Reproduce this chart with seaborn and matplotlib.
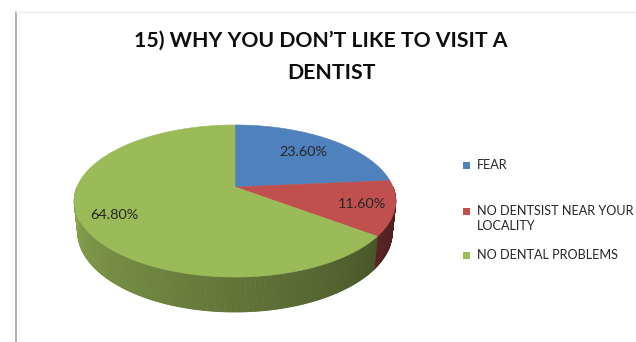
import numpy as np
import matplotlib
matplotlib.use("Agg")
import matplotlib.pyplot as plt
from matplotlib.lines import Line2D
from matplotlib.patches import Rectangle
import seaborn as sns

# ---- data ----
categories = ["FEAR", "NO DENTSIST NEAR YOUR\nLOCALITY", "NO DENTAL PROBLEMS"]
shares = [23.6, 11.6, 64.8]
slice_colors = ["#4F81BD", "#C0504D", "#9BBB59"]
title_lines = ["15) WHY YOU DON\u2019T LIKE TO VISIT A", "DENTIST"]

sns.set_theme(style="white")
plt.rcParams["font.family"] = ["Lato", "DejaVu Sans"]

W, H = 636, 342
fig = plt.figure(figsize=(W / 100, H / 100), dpi=100)
ax = fig.add_axes([0, 0, 1, 1])
ax.set_xlim(0, W)
ax.set_ylim(H, 0)
ax.axis("off")

# ---- perspective camera for the 3-D pie ----
CX, CY = 235.0, 187.0          # screen position of the pie centre
ELEV = np.deg2rad(27.7)        # camera elevation
S, C = np.sin(ELEV), np.cos(ELEV)
DIST = 4.807                   # camera distance (in pie radii)
FOCAL = 759.6                  # focal length in pixels
THICK = 0.223                  # pie thickness (in pie radii)


def project(x, y, z=0.0):
    depth = DIST + y * C - z * S
    up = y * S + z * C
    return CX + FOCAL * x / depth, CY - FOCAL * up / depth


def shade(color, factor):
    r, g, b = matplotlib.colors.to_rgb(color)
    return (r * factor, g * factor, b * factor)


# slice angles, clockwise from 12 o'clock
cum = np.concatenate([[0.0], np.cumsum(shares)]) / np.sum(shares)
starts = 90.0 - 360.0 * cum[:-1]
ends = 90.0 - 360.0 * cum[1:]

# outer wall (front half only), shaded from left to right
for t0, t1, col in zip(starts, ends, slice_colors):
    th = np.linspace(t0, t1, max(int(abs(t1 - t0) * 2), 2) + 1)
    for a, b in zip(th[:-1], th[1:]):
        mid = np.deg2rad(0.5 * (a + b))
        if np.sin(mid) >= 0:
            continue
        ra, rb = np.deg2rad(a), np.deg2rad(b)
        pts = [project(np.cos(ra), np.sin(ra)), project(np.cos(rb), np.sin(rb)),
               project(np.cos(rb), np.sin(rb), -THICK), project(np.cos(ra), np.sin(ra), -THICK)]
        u = (np.rad2deg(mid) % 360 - 180) / 180.0
        fc = shade(col, 0.90 - 0.55 * u)
        xs, ys = zip(*pts)
        ax.fill(xs, ys, color=fc, lw=0.6, ec=fc, zorder=1)

# top faces
for t0, t1, col in zip(starts, ends, slice_colors):
    th = np.deg2rad(np.linspace(t0, t1, 200))
    pts = [project(0, 0)] + [project(np.cos(t), np.sin(t)) for t in th]
    xs, ys = zip(*pts)
    ax.fill(xs, ys, color=col, lw=0.4, ec=col, zorder=2)

# value labels
label_radius = [0.70, 0.80, 0.80]
for t0, t1, v, r in zip(starts, ends, shares, label_radius):
    m = np.deg2rad(0.5 * (t0 + t1))
    lx, ly = project(r * np.cos(m), r * np.sin(m))
    ax.text(lx, ly, f"{v:.2f}%", ha="center", va="center",
            fontsize=10.4, color="#262626", zorder=3)

# title
ax.text(321, 41, title_lines[0], ha="center", va="center",
        fontsize=15.3, fontweight="bold", color="#0D0D0D")
ax.text(331, 73, title_lines[1], ha="center", va="center",
        fontsize=15.3, fontweight="bold", color="#0D0D0D")

# legend
legend_y = [165, 211, 255]
for cat, col, y in zip(categories, slice_colors, legend_y):
    ax.add_patch(Rectangle((463, y - 3.5), 7, 7, color=col, lw=0))
    ax.text(477, y - 6, cat, ha="left", va="top", fontsize=9.1,
            color="#262626", linespacing=1.35)

# chart frame edges
fig.add_artist(Line2D([15.5 / W, 15.5 / W], [0, 1 - 12 / H], color="#A6A6A6", lw=1.2))
fig.add_artist(Line2D([16 / W, 1], [1 - 12 / H, 1 - 12 / H], color="#EDEDED", lw=1))

fig.savefig("out.png", dpi=100)
